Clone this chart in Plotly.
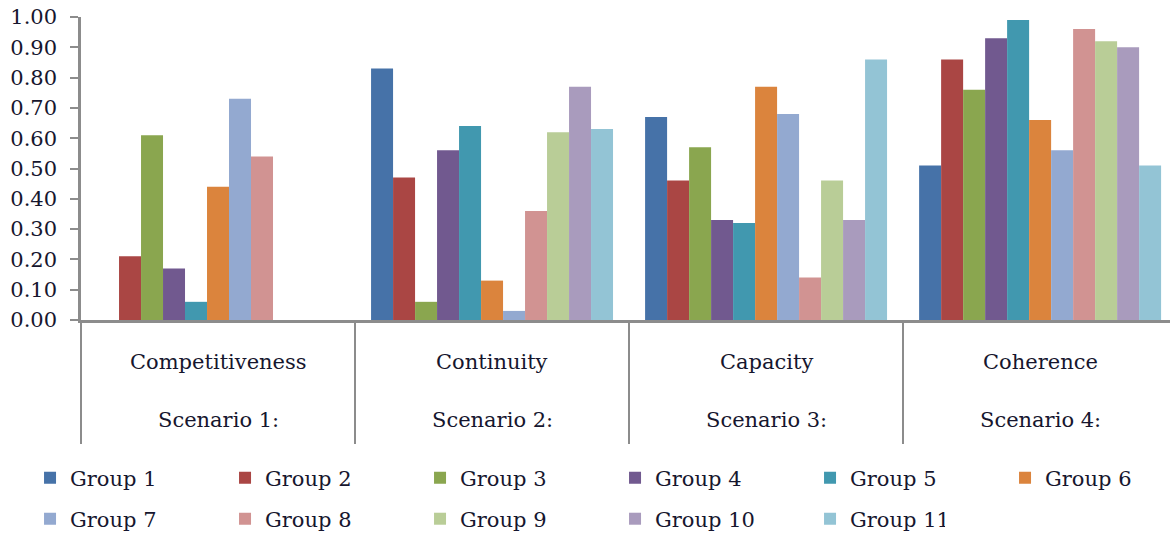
import plotly.graph_objects as go

scenarios = ["Scenario 1:", "Scenario 2:", "Scenario 3:", "Scenario 4:"]
criteria = ["Competitiveness", "Continuity", "Capacity", "Coherence"]
groups = [f"Group {i}" for i in range(1, 12)]

group1 = [0.00, 0.83, 0.67, 0.51]
group2 = [0.21, 0.47, 0.46, 0.86]
group3 = [0.61, 0.06, 0.57, 0.76]
group4 = [0.17, 0.56, 0.33, 0.93]
group5 = [0.06, 0.64, 0.32, 0.99]
group6 = [0.44, 0.13, 0.77, 0.66]
group7 = [0.73, 0.03, 0.68, 0.56]
group8 = [0.54, 0.36, 0.14, 0.96]
group9 = [0.00, 0.62, 0.46, 0.92]
group10 = [0.00, 0.77, 0.33, 0.90]
group11 = [0.00, 0.63, 0.86, 0.51]
values = [group1, group2, group3, group4, group5, group6,
          group7, group8, group9, group10, group11]

colors = ["#4672A8", "#AA4644", "#8AA64F", "#71598F", "#4198AF", "#DB843D",
          "#93A9D0", "#D19392", "#B9CD97", "#A99BBD", "#93C4D5"]

FONT = "DejaVu Serif"
TXT = "#16162e"
GREY = "#8c8c8c"

fig = go.Figure()
for i, (name, vals) in enumerate(zip(groups, values)):
    fig.add_trace(go.Bar(
        x=criteria, y=vals, name=name,
        marker=dict(color=colors[i], line=dict(width=0)),
        legend="legend" if i < 6 else "legend2",
    ))
    fig.data[-1].legendwidth = 90 if i in (5, 10) else 150

# empty helper trace so the divider axis (xaxis2) is drawn
fig.add_trace(go.Scatter(x=[], y=[], xaxis="x2", yaxis="y", showlegend=False,
                         hoverinfo="skip"))

ann = []
for c, s in zip(criteria, scenarios):
    ann.append(dict(x=c, xref="x", y=-0.1386, yref="paper", text=c,
                    showarrow=False, yanchor="middle", xanchor="center",
                    font=dict(family=FONT, size=21, color=TXT)))
    ann.append(dict(x=c, xref="x", y=-0.330, yref="paper", text=s,
                    showarrow=False, yanchor="middle", xanchor="center",
                    font=dict(family=FONT, size=21, color=TXT)))

legfont = dict(family=FONT, size=21, color=TXT)
fig.update_layout(
    width=1170, height=535,
    margin=dict(l=81, r=0, t=17, b=215, autoexpand=False),
    paper_bgcolor="white", plot_bgcolor="white",
    barmode="group", bargap=0.117, bargroupgap=0,
    font=dict(family=FONT, size=21, color=TXT),
    xaxis=dict(type="category", range=[-0.5, 3.474], showticklabels=False,
               ticks="", showline=True, linecolor=GREY, linewidth=2.5,
               showgrid=False, zeroline=False, fixedrange=True),
    xaxis2=dict(overlaying="x", anchor="y", side="bottom", type="linear",
                range=[-0.5, 3.474],
                tickmode="array", tickvals=[-0.5, 0.5, 1.5, 2.5],
                ticks="outside", ticklen=123, tickwidth=2, tickcolor=GREY,
                showticklabels=False, showline=False, showgrid=False,
                zeroline=False),
    yaxis=dict(range=[0, 1], tickmode="array",
               tickvals=[i / 10 for i in range(11)], tickformat=".2f",
               ticks="outside", ticklen=8, tickwidth=2, tickcolor=GREY,
               showline=True, linecolor=GREY, linewidth=2.5, showgrid=False,
               zeroline=False, ticklabelstandoff=9,
               tickfont=dict(family=FONT, size=21, color=TXT)),
    legend=dict(orientation="h", x=-0.0468, xanchor="left", y=-0.5215,
                yanchor="middle", font=legfont, entrywidthmode="pixels",
                bgcolor="rgba(0,0,0,0)", itemclick=False),
    legend2=dict(orientation="h", x=-0.0468, xanchor="left", y=-0.657,
                 yanchor="middle", font=legfont, entrywidthmode="pixels",
                 bgcolor="rgba(0,0,0,0)", itemclick=False),
    annotations=ann,
    showlegend=True,
)

fig.write_html("out.html")
